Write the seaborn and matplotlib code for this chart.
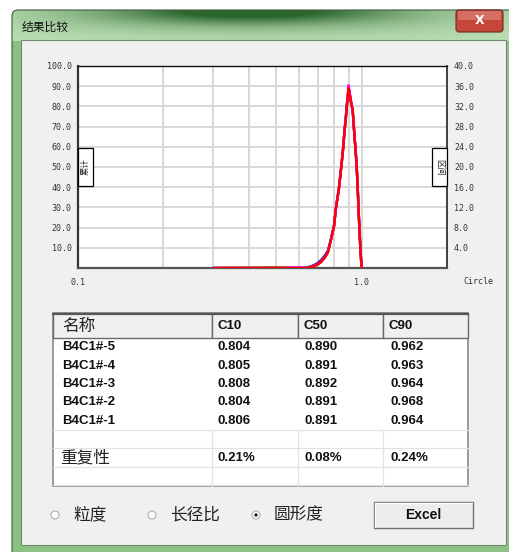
import numpy as np
import pandas as pd
import matplotlib
matplotlib.use('Agg')
import matplotlib.pyplot as plt
import seaborn as sns
from matplotlib.patches import Rectangle, FancyBboxPatch, Circle
from matplotlib.ticker import FixedLocator, NullFormatter

sns.set_style('white')
plt.rcParams['font.family'] = ['Noto Sans CJK SC', 'DejaVu Sans']

# ---- data ----
circ = [0.30, 0.50, 0.52, 0.56, 0.60, 0.64, 0.66, 0.68, 0.70, 0.72, 0.74, 0.76, 0.78,
        0.80, 0.81, 0.82, 0.83, 0.84, 0.85, 0.86, 0.87, 0.88, 0.89, 0.90, 0.91,
        0.92, 0.93, 0.94, 0.95, 0.96, 0.97, 0.98, 0.99, 1.00]
freq_5 = [0, 0, 0, 0, 0, 0.1, 0.3, 0.6, 1.0, 1.6, 2.4, 3.4, 5.8,
          8.6, 11.6, 13.6, 15.4, 18.0, 20.6, 23.4, 26.9, 29.7, 32.9, 35.5, 34.2,
          32.4, 31.2, 27.4, 24.0, 20.6, 15.1, 9.1, 3.9, 0]
freq_4 = [0, 0.15, 0.15, 0, 0, 0, 0.2, 0.4, 0.7, 1.2, 2.0, 3.0, 5.6,
          8.4, 11.5, 13.5, 15.3, 18.0, 20.6, 23.5, 27.0, 29.8, 33.0, 35.6, 34.0,
          32.5, 31.3, 27.5, 24.0, 20.5, 15.0, 9.0, 3.8, 0]
freq_3 = [0, 0, 0, 0, 0, 0, 0.2, 0.5, 0.9, 1.4, 2.2, 3.2, 5.7,
          8.5, 11.4, 13.4, 15.3, 17.9, 20.7, 23.6, 27.1, 29.9, 33.1, 35.7, 34.1,
          32.6, 31.2, 27.6, 24.1, 20.4, 14.9, 9.0, 3.7, 0]
freq_2 = [0, 0, 0, 0.1, 0.1, 0, 0.2, 0.4, 0.7, 1.2, 2.0, 3.1, 5.6,
          8.4, 11.5, 13.5, 15.4, 18.1, 20.8, 23.7, 27.2, 30.1, 33.4, 36.2, 34.3,
          32.6, 31.3, 27.5, 24.0, 20.6, 15.0, 9.0, 3.8, 0]
freq_1 = [0, 0, 0, 0, 0, 0, 0.2, 0.4, 0.7, 1.2, 2.0, 3.0, 5.6,
          8.4, 11.5, 13.5, 15.3, 18.0, 20.6, 23.5, 27.0, 29.8, 33.0, 35.6, 34.0,
          32.5, 31.3, 27.5, 24.0, 20.5, 15.0, 9.0, 3.8, 0]

samples = ['B4C1#-5', 'B4C1#-4', 'B4C1#-3', 'B4C1#-2', 'B4C1#-1']
line_colors = ['#2020c0', '#8a8a00', '#7a20c8', '#ff00ff', '#ff0000']
c10 = ['0.804', '0.805', '0.808', '0.804', '0.806']
c50 = ['0.890', '0.891', '0.892', '0.891', '0.891']
c90 = ['0.962', '0.963', '0.964', '0.968', '0.964']
repeat = ['0.21%', '0.08%', '0.24%']
headers = ['名称', 'C10', 'C50', 'C90']

left_ticks = [10, 20, 30, 40, 50, 60, 70, 80, 90, 100]
right_ticks = [4, 8, 12, 16, 20, 24, 28, 32, 36, 40]
grid_x = [0.2, 0.3, 0.4, 0.5, 0.6, 0.7, 0.8, 0.9]

df = pd.DataFrame({
    'circ': circ * 5,
    'freq': freq_5 + freq_4 + freq_3 + freq_2 + freq_1,
    'sample': sum([[s] * len(circ) for s in samples], []),
})

W, H = 510, 552
fig = plt.figure(figsize=(W / 100, H / 100), dpi=100)
fig.patch.set_facecolor('white')

# ---- window chrome (pixel coordinates) ----
bg = fig.add_axes([0, 0, 1, 1], zorder=0)
bg.set_xlim(0, W)
bg.set_ylim(H, 0)
bg.axis('off')

yy, xx = np.mgrid[10:H, 12:W]
light = np.array([0.74, 0.88, 0.71])
dark = np.array([0.17, 0.40, 0.18])
w = 0.95 * np.exp(-((xx - 250) / 140.0) ** 2) * np.exp(-((yy - 10) / 12.0) ** 2)
w += 0.30 * np.exp(-((xx - 250) / 230.0) ** 2) * np.exp(-((yy - 18) / 18.0) ** 2)
w = np.clip(w, 0, 1)[..., None]
img = light * (1 - w) + dark * w
side = (yy > 40)[..., None]
img = np.where(side, np.array([0.55, 0.76, 0.52]), img)
frame = FancyBboxPatch((12, 10), W - 12 + 8, H - 10 + 8, boxstyle='round,pad=0,rounding_size=6',
                       facecolor='none', edgecolor='#3c5a3c', lw=0.8)
bg.add_patch(frame)
im = bg.imshow(img, extent=[12, W, H, 10], aspect='auto', interpolation='bilinear')
im.set_clip_path(frame)

bg.text(22, 27, '结果比较', fontsize=8.5, va='center', ha='left', color='#111111')

# close button
btn = FancyBboxPatch((456, 10), 47, 22, boxstyle='round,pad=0,rounding_size=3',
                     facecolor='#c7463a', edgecolor='#6e2a22', lw=0.8)
bg.add_patch(btn)
bg.add_patch(Rectangle((458, 11), 43, 9, facecolor='#de8074', edgecolor='none', alpha=0.7))
bg.text(479.5, 21, 'X', fontsize=9, fontweight='bold', color='white', ha='center', va='center',
        family='DejaVu Sans')

# client area
bg.add_patch(Rectangle((21, 40), 485, 505, facecolor='#f0f0f0', edgecolor='#6f8a6f', lw=0.8))

# ---- chart ----
ax = fig.add_axes([78 / W, 1 - 268 / H, (447 - 78) / W, (268 - 66) / H], zorder=2)
ax.set_facecolor('white')
ax.set_xscale('log')
ax.set_xlim(0.1, 2.0)
ax.set_ylim(0, 100)
ax.set_xticks([0.1, 1.0])
ax.set_xticklabels(['0.1', '1.0'], family='DejaVu Sans Mono', fontsize=6, color='#333333')
ax.xaxis.set_minor_locator(FixedLocator(grid_x))
ax.xaxis.set_minor_formatter(NullFormatter())
ax.set_yticks(left_ticks)
ax.set_yticklabels([f'{v:.1f}' for v in left_ticks], family='DejaVu Sans Mono', fontsize=6,
                   color='#333333')
ax.grid(axis='x', which='both', color='#d6d6d6', lw=1.3)
ax.grid(axis='y', which='major', color='#d6d6d6', lw=1.3)
ax.tick_params(axis='both', which='both', length=0)
ax.tick_params(axis='x', pad=7)
ax.tick_params(axis='y', pad=4.5)
for s, c, lw in [('left', '#333333', 1.6), ('bottom', '#555555', 1.6),
                 ('top', '#111111', 1.0), ('right', '#222222', 1.2)]:
    ax.spines[s].set_color(c)
    ax.spines[s].set_linewidth(lw)

ax2 = ax.twinx()
ax2.set_ylim(0, 40)
ax2.set_yticks(right_ticks)
ax2.set_yticklabels([f'{v:.1f}' for v in right_ticks], family='DejaVu Sans Mono', fontsize=6,
                    color='#333333')
ax2.tick_params(axis='y', length=0, pad=5)
for s in ax2.spines.values():
    s.set_visible(False)

sns.lineplot(data=df, x='circ', y='freq', hue='sample', hue_order=samples,
             palette=line_colors, ax=ax2, legend=False, linewidth=1.7,
             estimator=None, sort=False)
ax.set_xlabel('')
ax2.set_xlabel('')
ax2.set_ylabel('')

# ---- overlay: axis tag boxes, table, controls ----
ov = fig.add_axes([0, 0, 1, 1], zorder=5)
ov.set_xlim(0, W)
ov.set_ylim(H, 0)
ov.axis('off')
ov.patch.set_alpha(0)

ov.add_patch(Rectangle((78, 148), 15, 38, facecolor='white', edgecolor='black', lw=0.9))
ov.text(85.5, 167, '累计', rotation=90, fontsize=6, ha='center', va='center', color='#222222')
ov.add_patch(Rectangle((432, 148), 15, 38, facecolor='white', edgecolor='black', lw=0.9))
ov.text(439.5, 167, '区间', rotation=-90, fontsize=6, ha='center', va='center', color='#222222')
ov.text(463, 281, 'Circle', fontsize=6, family='DejaVu Sans Mono', ha='left', va='center',
        color='#333333')

# table
col_x = [53, 212, 298, 383, 468]
row_h = 18.4
top_body = 338
ov.add_patch(Rectangle((53, 313), 415, 173, facecolor='white', edgecolor='#8a8a8a', lw=1.2))
for i, h in enumerate(headers):
    ov.add_patch(Rectangle((col_x[i], 313), col_x[i + 1] - col_x[i], 25,
                           facecolor='#f0f0f0', edgecolor='#6a6a6a', lw=1.0))
    if i == 0:
        ov.text(col_x[i] + 9, 326, h, fontsize=12, ha='left', va='center', color='#222222')
    else:
        ov.text(col_x[i] + 6, 326, h, fontsize=9.5, ha='left', va='center',
                family='Liberation Sans', fontweight='bold', color='#111111')
ov.plot([53, 468], [313.5, 313.5], color='#555555', lw=1.6)

for k in range(5, 9):
    ov.plot([53, 468], [top_body + k * row_h] * 2, color='#e2e2e2', lw=0.9)
for x in col_x[1:4]:
    ov.plot([x, x], [top_body + 5 * row_h, 486], color='#e2e2e2', lw=0.9)

for r in range(5):
    yc = top_body + row_h * (r + 0.5)
    for x, txt in zip([62, 218, 305, 391], [samples[r], c10[r], c50[r], c90[r]]):
        ov.text(x, yc, txt, fontsize=9.5, ha='left', va='center', family='Liberation Sans',
                fontweight='bold', color='#111111')
yc = top_body + row_h * 6.5
ov.text(60, yc, '重复性', fontsize=12, ha='left', va='center', color='#222222')
for x, txt in zip([218, 305, 391], repeat):
    ov.text(x, yc, txt, fontsize=9.5, ha='left', va='center', family='Liberation Sans',
            fontweight='bold', color='#111111')

# radio buttons
radios = [(55, '粒度', False), (152, '长径比', False), (256, '圆形度', True)]
for cx, label, on in radios:
    ov.add_patch(Circle((cx, 515), 4.0, facecolor='white', edgecolor='#b0b0b0', lw=0.8))
    if on:
        ov.add_patch(Circle((cx, 515), 1.7, facecolor='#222222', edgecolor='none'))
    ov.text(cx + 18, 515, label, fontsize=12, ha='left', va='center', color='#222222')

# Excel button
ov.add_patch(Rectangle((374, 502), 99, 26, facecolor='#ededed', edgecolor='#707070', lw=1.0))
ov.plot([375, 472], [503, 503], color='white', lw=1.0)
ov.plot([375, 375], [503, 527], color='white', lw=1.0)
ov.text(423.5, 515, 'Excel', fontsize=10, ha='center', va='center', family='Liberation Sans',
        fontweight='bold', color='#111111')

fig.savefig('out.png', dpi=100)
